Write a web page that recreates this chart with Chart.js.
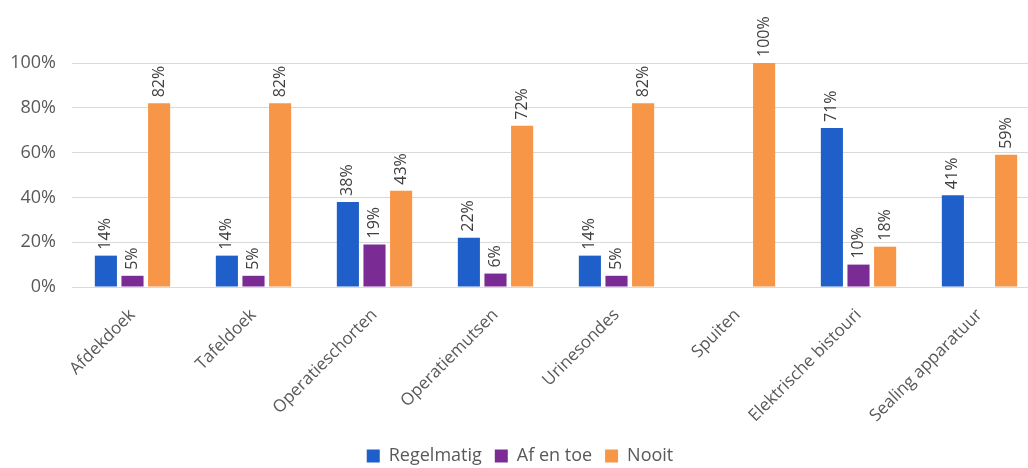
<!DOCTYPE html>
<html>
<head>
<meta charset="utf-8">
<script src="https://cdn.jsdelivr.net/npm/chart.js@4/dist/chart.umd.min.js"></script>
<style>
  html, body { margin: 0; padding: 0; background: #fff; overflow: hidden; }
  #wrap { width: 1040px; height: 468px; }
</style>
</head>
<body>
<div id="wrap"><canvas id="chart"></canvas></div>
<script>
const categories = ['Afdekdoek', 'Tafeldoek', 'Operatieschorten', 'Operatiemutsen',
                    'Urinesondes', 'Spuiten', 'Elektrische bistouri', 'Sealing apparatuur'];
const regelmatig = [14, 14, 38, 22, 14, null, 71, 41];
const afEnToe = [5, 5, 19, 6, 5, null, 10, null];
const nooit = [82, 82, 43, 72, 82, 100, 18, 59];
const yTicks = [0, 20, 40, 60, 80, 100];

const fontFamily = "'Open Sans', sans-serif";

// draws the rotated percentage above each bar
const barLabels = {
    id: 'barLabels',
    afterDatasetsDraw(chart) {
        const ctx = chart.ctx;
        ctx.save();
        ctx.font = '16px ' + fontFamily;
        ctx.fillStyle = '#404040';
        ctx.textAlign = 'left';
        ctx.textBaseline = 'middle';
        chart.data.datasets.forEach((ds, i) => {
            chart.getDatasetMeta(i).data.forEach((bar, j) => {
                const v = ds.data[j];
                if (v === null || v === undefined) return;
                ctx.save();
                ctx.translate(bar.x, bar.y - 6);
                ctx.rotate(-Math.PI / 2);
                ctx.fillText(v + '%', 0, 0);
                ctx.restore();
            });
        });
        ctx.restore();
    }
};

new Chart(document.getElementById('chart'), {
    type: 'bar',
    data: {
        labels: categories,
        datasets: [
            { label: 'Regelmatig', data: regelmatig, backgroundColor: '#1f5fc9' },
            { label: 'Af en toe', data: afEnToe, backgroundColor: '#7a2c94' },
            { label: 'Nooit', data: nooit, backgroundColor: '#f79646' }
        ]
    },
    options: {
        responsive: true,
        maintainAspectRatio: false,
        animation: false,
        categoryPercentage: 0.66,
        barPercentage: 0.83,
        layout: { padding: { top: 63, left: 0, right: 0, bottom: -7 } },
        plugins: {
            legend: {
                position: 'bottom',
                labels: {
                    boxWidth: 13, boxHeight: 13, padding: 13,
                    color: '#595959',
                    font: { family: fontFamily, size: 18 }
                }
            },
            tooltip: { enabled: false }
        },
        scales: {
            x: {
                grid: { display: false },
                border: { display: false },
                ticks: {
                    color: '#595959',
                    font: { family: fontFamily, size: 17 },
                    maxRotation: 45, minRotation: 45,
                    padding: 10
                },
                afterFit(scale) { scale.height = 147; }
            },
            y: {
                min: 0, max: 100,
                afterBuildTicks(scale) { scale.ticks = yTicks.map(v => ({ value: v })); },
                grid: { color: '#d9d9d9', drawTicks: false },
                border: { display: false },
                ticks: {
                    color: '#595959',
                    font: { family: fontFamily, size: 18 },
                    padding: 16,
                    callback: v => v + '%'
                },
                afterFit(scale) { scale.width = 72; }
            }
        }
    },
    plugins: [barLabels]
});
</script>
</body>
</html>
